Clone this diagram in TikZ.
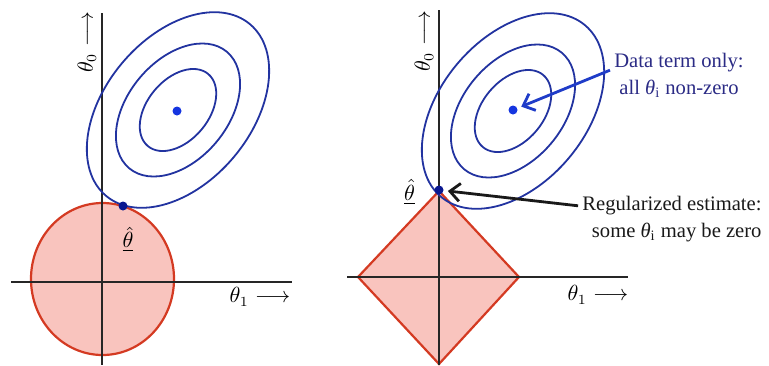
\documentclass[tikz,border=0pt]{standalone}
\usepackage{fontspec}
\usepackage{xcolor}
\usepackage{tikz}
\usetikzlibrary{positioning, arrows.meta}
\newfontfamily\timesfont{Liberation Serif}
\definecolor{contourblue}{HTML}{2233A0}
\definecolor{dotblue}{HTML}{1535E0}
\definecolor{estblue}{HTML}{0A1890}
\definecolor{notenavy}{HTML}{2B2B85}
\definecolor{arrowblue}{HTML}{1F3CC8}
\definecolor{regred}{HTML}{D43A22}
\definecolor{regfill}{HTML}{F9C4BE}

\tikzset{
  axis/.style={line width=1pt, black!85},
  contour/.style={draw=contourblue, line width=0.9pt},
  region/.style={draw=regred, fill=regfill, line width=1.1pt, line join=miter},
  optdot/.style={circle, fill=dotblue, inner sep=0pt, minimum size=4.5pt},
  estdot/.style={circle, fill=estblue, inner sep=0pt, minimum size=4.5pt},
  note/.style={font=\timesfont\fontsize{10.3}{13.5}\selectfont, inner sep=2pt},
}

\begin{document}
\begin{tikzpicture}[x=0.5pt, y=-0.5pt, font=\fontsize{10.5}{12}\selectfont]
  \useasboundingbox (0,0) rectangle (769,365);

  % left: round constraint
  \draw[region] (102.5,279) ellipse [x radius=71.5, y radius=76];
  \draw[axis] (11,282) -- (292,282);
  \draw[axis] (102,13) -- (102,365);
  \coordinate (cL) at (178,110);
  \foreach \a/\b in {112/73, 76/50, 47/30.6}
    \draw[contour, rotate around={50:(cL)}] (cL) ellipse [x radius=\a, y radius=\b];
  \node[optdot] (optL) at (177,111) {};
  \node[estdot] (estL) at (123,206) {};
  \node[below=4.5pt of estL, xshift=2.5pt] (hatL) {$\underline{\hat{\theta}}$};
  \node[rotate=90] (yL) at (87,42) {$\theta_0\longrightarrow$};
  \node (xL) at (260,297) {$\theta_1\longrightarrow$};

  % right: diamond constraint
  \draw[region] (358,277) -- (439,191) -- (519,277) -- (439,364) -- cycle;
  \draw[axis] (347,277) -- (628,277);
  \draw[axis] (439,10) -- (439,365);
  \coordinate (cR) at (513,111);
  \foreach \a/\b in {112/73, 76/50, 47/30.6}
    \draw[contour, rotate around={50:(cR)}] (cR) ellipse [x radius=\a, y radius=\b];
  \node[optdot] (optR) at (513,110) {};
  \node[estdot] (estR) at (439,190) {};
  \node[left=6pt of estR, yshift=-1pt] (hatR) {$\underline{\hat{\theta}}$};
  \node[rotate=90] (yR) at (424,41) {$\theta_0\longrightarrow$};
  \node (xR) at (598,295) {$\theta_1\longrightarrow$};

  % notes
  \node[note, text=notenavy, align=center] (dataNote) at (679,75)
    {Data term only:\\ all \textit{θ}\textsubscript{i} non-zero};
  \node[note, text=black!90, align=right] (regNote) at (672,219)
    {Regularized estimate:\\ some \textit{θ}\textsubscript{i} may be zero};
  \draw[arrowblue, line width=1.4pt, -{Straight Barb[length=5pt, width=9pt]}, shorten >=2pt]
    (dataNote.176) -- (optR);
  \draw[black!90, line width=1.4pt, -{Straight Barb[length=5pt, width=9pt]}, shorten >=2pt]
    (regNote.172) -- (estR);
\end{tikzpicture}
\end{document}
